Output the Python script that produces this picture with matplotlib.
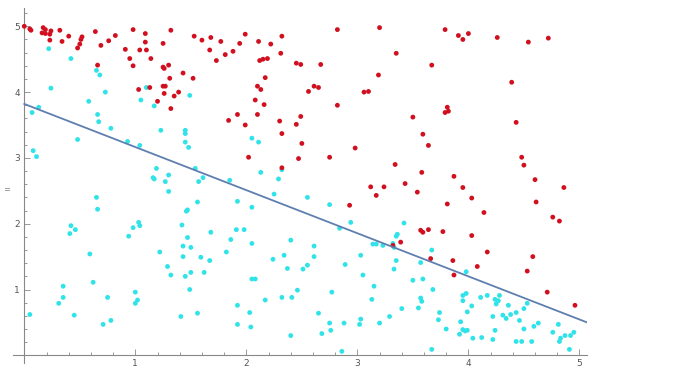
import matplotlib
matplotlib.use("Agg")
import matplotlib.pyplot as plt
from matplotlib.ticker import MultipleLocator, FixedLocator

# points above the boundary (red)
red_x = [0.00, 0.05, 0.06, 0.17, 0.19, 0.24, 0.16, 0.19, 0.23, 0.23, 0.32, 0.34, 0.40, 0.52, 0.51,
         0.50, 0.48, 0.64, 0.69, 0.76, 0.82, 0.98, 1.09, 1.09, 1.04, 1.10, 0.91, 0.95, 0.98, 1.14,
         1.25, 1.25, 1.26, 0.66, 1.03, 1.13, 1.20, 1.25, 1.26,
         1.32, 1.53, 1.60, 1.68, 1.77, 1.67, 1.73, 1.81, 1.88, 1.94, 1.99, 2.11, 2.22, 2.32, 2.31,
         2.12, 2.15, 2.19, 2.45, 2.49, 1.30, 1.43, 1.52, 1.31, 1.27, 1.39, 1.35, 1.32, 2.17, 2.10,
         2.13, 2.08, 2.16, 2.10, 1.92, 1.84, 1.99, 2.30, 2.32, 2.45, 2.49, 2.50, 2.47, 2.02, 2.32,
         2.82, 3.20, 3.35, 2.67, 3.67, 3.19, 2.56, 2.61, 2.65, 3.06, 3.10, 2.82, 3.50, 3.59, 3.64,
         2.98, 2.75, 3.34, 3.58, 3.43, 3.12, 3.24,
         3.79, 3.91, 3.95, 4.00, 4.26, 4.54, 4.72, 4.39, 3.81, 3.79, 3.82, 4.43, 4.48, 4.50, 3.87,
         4.60, 3.95, 4.86,
         3.81, 4.03, 4.14, 4.61, 4.76, 4.82, 3.77, 4.03, 4.17, 4.58, 3.86, 4.08, 4.53, 3.87, 4.71,
         4.96,
         3.17, 3.54, 2.93, 3.57, 3.59, 3.64, 3.32, 3.39, 3.66]
red_y = [5.00, 4.96, 4.94, 4.98, 4.95, 4.93, 4.90, 4.89, 4.88, 4.79, 4.94, 4.77, 4.85, 4.84, 4.80,
         4.73, 4.67, 4.92, 4.71, 4.78, 4.86, 4.95, 4.89, 4.76, 4.64, 4.64, 4.65, 4.51, 4.40, 4.51,
         4.74, 4.38, 4.36, 4.41, 4.04, 4.07, 3.86, 4.09, 3.98,
         4.94, 4.85, 4.79, 4.83, 4.77, 4.64, 4.48, 4.57, 4.62, 4.74, 4.88, 4.77, 4.73, 4.85, 4.59,
         4.48, 4.50, 4.51, 4.44, 4.42, 4.41, 4.29, 4.21, 4.21, 4.09, 4.00, 3.94, 3.75, 4.22, 4.09,
         4.04, 3.88, 3.81, 3.66, 3.66, 3.57, 3.50, 3.56, 3.37, 3.51, 3.63, 3.22, 2.99, 3.01, 2.85,
         4.95, 4.98, 4.59, 4.42, 4.41, 4.26, 4.01, 4.09, 4.07, 4.00, 4.01, 3.80, 3.62, 3.36, 3.19,
         3.15, 3.01, 2.90, 2.78, 2.61, 2.56, 2.56,
         4.95, 4.86, 4.80, 4.89, 4.83, 4.76, 4.82, 4.15, 3.77, 3.69, 3.71, 3.54, 3.01, 2.89, 2.72,
         2.67, 2.55, 2.55,
         2.30, 2.39, 2.17, 2.33, 2.10, 2.04, 1.88, 1.82, 1.57, 1.50, 1.44, 1.35, 1.28, 1.22, 0.96,
         0.76,
         2.43, 2.48, 2.28, 1.90, 1.87, 1.91, 1.67, 1.72, 1.47]

# points below the boundary (cyan)
cyan_x = [0.22, 0.42, 0.65, 0.68, 0.24, 0.73, 0.58, 0.13, 0.07, 0.66, 0.67, 0.78, 0.48, 0.93, 1.04,
          0.08, 0.11, 1.19, 1.16, 1.17, 1.23, 1.05, 1.17, 1.10,
          1.49, 1.45, 1.45, 1.45, 1.48, 2.05, 2.11, 1.54, 1.61, 1.57, 1.30, 1.27, 1.85, 2.13, 2.29,
          2.32,
          0.65, 0.66, 0.42, 0.46, 0.41, 0.98, 1.03, 1.04, 0.94, 0.59, 1.22, 0.62, 0.35, 0.35, 0.31,
          0.75, 1.00, 1.02, 1.00, 0.05, 0.45, 0.71, 0.78,
          1.30, 1.56, 1.46, 1.47, 1.92, 2.05, 2.25, 1.42, 1.47, 1.68, 1.91, 1.98, 1.86, 2.05, 2.40,
          1.43, 1.50, 1.43, 1.59, 1.67, 1.82, 1.29, 1.32, 1.45, 1.50, 1.62, 1.49, 2.24, 2.34, 2.37,
          2.05, 2.08, 2.46, 2.17, 2.32, 2.41, 1.92, 2.03, 1.56, 1.41, 1.92, 2.04, 2.40,
          2.55, 2.75, 2.94, 2.84, 3.42, 3.36, 3.35, 3.14, 3.17, 3.23, 3.32, 3.33, 2.61, 2.61, 3.03,
          3.67, 3.35, 3.57, 2.55, 2.51, 2.89, 3.05, 3.33, 3.50, 3.59, 3.15, 2.77, 3.68, 3.13, 3.57,
          3.58, 3.55, 3.40, 3.74, 3.73, 2.65, 2.75, 2.76, 2.68, 2.88, 3.03, 3.02, 3.20, 3.29, 2.86,
          3.67,
          3.98, 3.95, 3.98, 3.95, 4.03, 3.99, 3.80, 3.93, 3.92, 3.95, 3.97, 3.99, 4.04, 4.11, 4.17,
          4.24, 4.28, 4.27, 4.25, 4.36, 4.22, 4.31, 4.34, 4.38, 4.43, 4.46, 4.50, 4.53, 4.24, 4.12,
          4.22, 4.50, 4.43, 4.48, 4.57, 4.59, 4.63, 4.76, 4.81, 4.83, 4.82, 4.87, 4.92, 4.95, 4.91]
cyan_y = [4.66, 4.51, 4.33, 4.26, 4.06, 4.00, 3.86, 3.77, 3.69, 3.66, 3.55, 3.45, 3.28, 3.25, 3.19,
          3.11, 3.02, 2.84, 2.70, 2.68, 3.42, 3.88, 3.79, 4.07,
          3.95, 3.42, 3.37, 3.24, 3.16, 3.30, 3.24, 2.84, 2.70, 2.64, 2.74, 2.64, 2.66, 2.78, 2.68,
          2.82,
          2.40, 2.22, 1.97, 1.91, 1.85, 1.94, 2.02, 1.97, 1.81, 1.54, 1.57, 1.11, 1.05, 0.88, 0.79,
          0.88, 0.96, 0.84, 0.79, 0.62, 0.61, 0.47, 0.53,
          2.49, 2.33, 2.19, 2.21, 2.34, 2.25, 2.45, 1.98, 1.79, 1.87, 1.91, 1.91, 1.76, 1.70, 1.75,
          1.66, 1.64, 1.50, 1.49, 1.44, 1.57, 1.35, 1.22, 1.20, 1.26, 1.26, 1.00, 1.46, 1.52, 1.32,
          1.16, 1.16, 0.99, 0.84, 0.88, 0.88, 0.76, 0.65, 0.64, 0.59, 0.47, 0.43, 0.30,
          2.40, 2.29, 2.02, 1.93, 2.01, 1.84, 1.81, 1.69, 1.69, 1.67, 1.70, 1.64, 1.66, 1.50, 1.52,
          1.60, 1.44, 1.41, 1.37, 1.31, 1.38, 1.22, 1.31, 1.14, 1.16, 1.05, 0.96, 1.00, 0.85, 0.87,
          0.82, 0.72, 0.71, 0.65, 0.54, 0.64, 0.49, 0.38, 0.33, 0.49, 0.55, 0.47, 0.49, 0.59, 0.06,
          0.09,
          1.27, 0.91, 0.94, 0.83, 0.75, 0.66, 0.40, 0.51, 0.32, 0.39, 0.37, 0.38, 0.26, 0.88, 0.91,
          0.85, 0.91, 0.83, 0.78, 0.76, 0.59, 0.61, 0.56, 0.62, 0.65, 0.53, 0.71, 0.79, 0.38, 0.27,
          0.24, 0.40, 0.21, 0.21, 0.21, 0.44, 0.49, 0.35, 0.47, 0.26, 0.21, 0.30, 0.30, 0.35, 0.09]

# separating line y = intercept + slope * x
line_x = [0.0, 5.07]
intercept = 3.82
slope = -0.655

fig = plt.figure(figsize=(6.9, 3.79), dpi=100)
ax = fig.add_axes([0.0188, 0.0422, 0.8322, 0.937])

ax.scatter(cyan_x, cyan_y, s=12, color="#2fe3e8", edgecolors="none", zorder=2)
ax.scatter(red_x, red_y, s=12, color="#d20f1f", edgecolors="none", zorder=3)
ax.plot(line_x, [intercept + slope * v for v in line_x], color="#5e7fb0", lw=1.3, zorder=4)

ax.set_xlim(-0.102, 5.07)
ax.set_ylim(-0.117, 5.28)

for s in ["top", "right"]:
    ax.spines[s].set_visible(False)
ax.spines["left"].set_position(("data", 0))
ax.spines["bottom"].set_position(("data", 0))
for s in ["left", "bottom"]:
    ax.spines[s].set_color("#888888")
    ax.spines[s].set_linewidth(0.8)

ax.xaxis.set_major_locator(FixedLocator([1, 2, 3, 4, 5]))
ax.yaxis.set_major_locator(FixedLocator([1, 2, 3, 4, 5]))
ax.xaxis.set_minor_locator(MultipleLocator(0.2))
ax.yaxis.set_minor_locator(MultipleLocator(0.2))
ax.tick_params(which="both", direction="in", colors="#888888", labelcolor="#555555",
               labelsize=6.5, width=0.6)
ax.tick_params(which="major", length=4, pad=3)
ax.tick_params(which="minor", length=2.2)

fig.text(0.004, 0.499, "=", fontsize=6, color="#888888", va="center", ha="left")

fig.savefig("out.png", dpi=100)
